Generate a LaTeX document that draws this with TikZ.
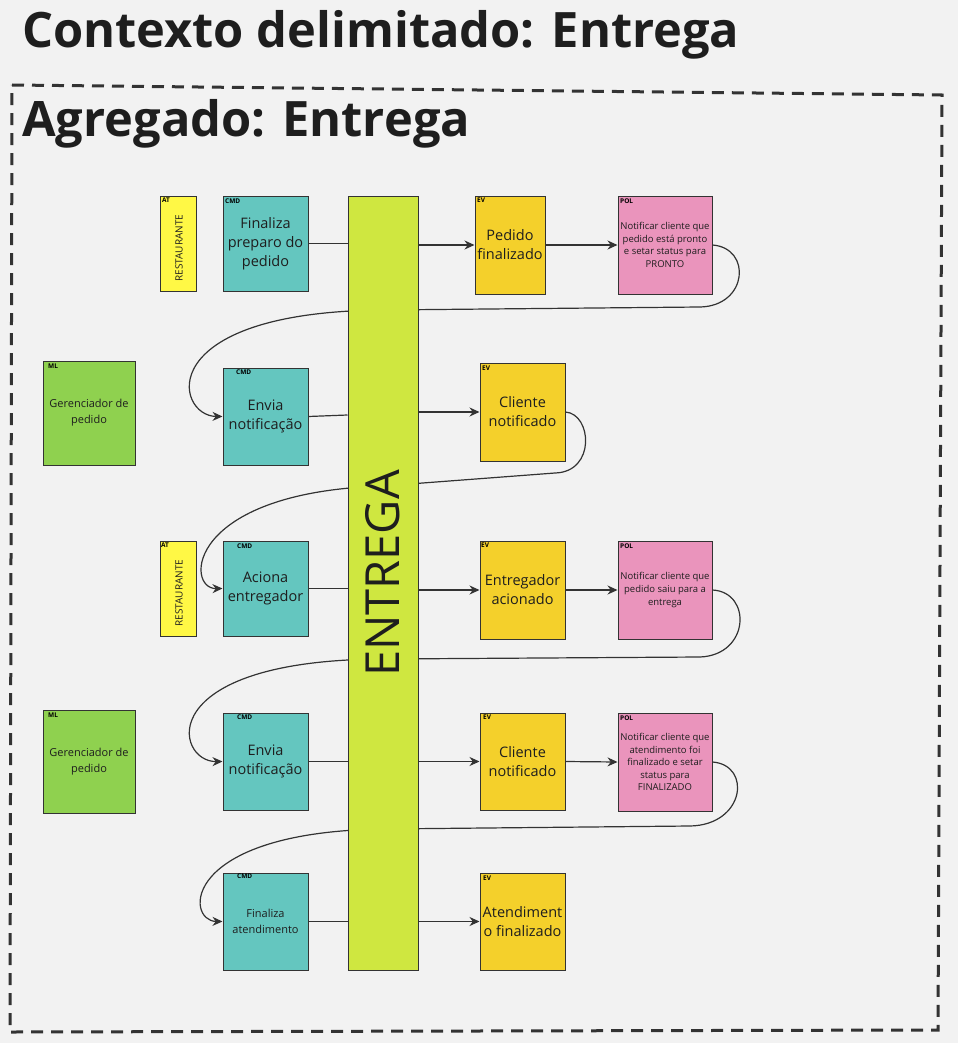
\documentclass[tikz,border=0pt]{standalone}
\usepackage{fontspec}
\setmainfont{Open Sans}
\usetikzlibrary{arrows.meta,backgrounds}
\definecolor{bgc}{HTML}{F2F2F2}
\definecolor{atc}{HTML}{FFF845}
\definecolor{cmdc}{HTML}{64C6BF}
\definecolor{aggc}{HTML}{CFE740}
\definecolor{evc}{HTML}{F4D02B}
\definecolor{polc}{HTML}{EA94BC}
\definecolor{mlc}{HTML}{8FD14F}
\definecolor{lnc}{HTML}{333333}
\definecolor{txc}{HTML}{1E1E1E}
\tikzset{
  card/.style={draw=lnc, line width=1pt, align=center, inner sep=0pt, text=txc},
  big/.style={font=\fontsize{14.5}{19}\selectfont},
  mid/.style={font=\fontsize{11}{16}\selectfont},
  tiny/.style={font=\fontsize{9.5}{12.5}\selectfont},
  tag/.style={font=\bfseries\fontsize{6.5}{7}\selectfont, inner sep=0pt, anchor=north west, text=black},
  conn/.style={draw=lnc, line width=1.2pt},
  arr/.style={conn, -{Stealth[length=10pt,width=9pt]}},
  ttl/.style={anchor=base west, inner sep=0pt, font=\bfseries\fontsize{48.8}{50}\selectfont, text=txc},
}
\begin{document}
\begin{tikzpicture}[x=1pt,y=-1pt]
\begin{pgfonlayer}{background}
\fill[bgc] (0,0) rectangle (958,1043);
\end{pgfonlayer}
\useasboundingbox (0,0) rectangle (958,1043);
% titles
\node[ttl] (t1) at (22,48) {Contexto delimitado: Entrega};
\node[ttl] (t2) at (22,137) {Agregado: Entrega};
% dashed aggregate border
\draw[lnc, line width=3pt, dash pattern=on 12pt off 8pt] (12,85) -- (942,95) -- (938,1030) -- (10,1032) -- cycle;

% aggregate
\node[card, fill=aggc, minimum width=70pt, minimum height=774pt] (agg) at (383,583) {};
\node[rotate=90, font=\fontsize{47}{47}\selectfont, text=txc] (aggtxt) at (383,573.5) {ENTREGA};

% row 1
\node[card, fill=atc, minimum width=36pt, minimum height=95pt] (at1) at (178,243.5) {};
\node[rotate=90, font=\fontsize{10}{10}\selectfont, text=txc] at (179,248) {RESTAURANTE};
\node[tag] at (162,198) {AT};
\node[card, fill=cmdc, minimum width=85pt, minimum height=95pt, big] (cmd1) at (265.5,243.5) {Finaliza\\preparo do\\pedido};
\node[tag] at (225,199) {CMD};
\node[card, fill=evc, minimum width=70pt, minimum height=98pt, big] (ev1) at (510,245) {Pedido\\finalizado};
\node[tag] at (477,198) {EV};
\node[card, fill=polc, minimum width=94pt, minimum height=98pt, tiny] (pol1) at (665,245) {Notificar cliente que\\pedido está pronto\\e setar status para\\PRONTO};
\node[tag] at (620,199) {POL};

% row 2
\node[card, fill=mlc, minimum width=92pt, minimum height=104pt, mid] (ml1) at (89,413) {Gerenciador de\\pedido};
\node[tag] at (48,364) {ML};
\node[card, fill=cmdc, minimum width=85pt, minimum height=97pt, big] (cmd2) at (265.5,416.5) {Envia\\notificação};
\node[tag] at (236,370) {CMD};
\node[card, fill=evc, minimum width=85pt, minimum height=98pt, big] (ev2) at (522.5,412) {Cliente\\notificado};
\node[tag] at (482,366) {EV};

% row 3
\node[card, fill=atc, minimum width=36pt, minimum height=95pt] (at2) at (178,588.5) {};
\node[rotate=90, font=\fontsize{10}{10}\selectfont, text=txc] at (179,593) {RESTAURANTE};
\node[tag] at (161,543) {AT};
\node[card, fill=cmdc, minimum width=85pt, minimum height=95pt, big] (cmd3) at (265.5,588.5) {Aciona\\entregador};
\node[tag] at (237,544) {CMD};
\node[card, fill=evc, minimum width=85pt, minimum height=98pt, big] (ev3) at (522.5,590) {Entregador\\acionado};
\node[tag] at (481,543) {EV};
\node[card, fill=polc, minimum width=94pt, minimum height=98pt, tiny] (pol2) at (665,590) {Notificar cliente que\\pedido saiu para a\\entrega};
\node[tag] at (620,544) {POL};

% row 4
\node[card, fill=mlc, minimum width=92pt, minimum height=103pt, mid] (ml2) at (89,761.5) {Gerenciador de\\pedido};
\node[tag] at (48,713) {ML};
\node[card, fill=cmdc, minimum width=85pt, minimum height=97pt, big] (cmd4) at (265.5,761.5) {Envia\\notificação};
\node[tag] at (237,715) {CMD};
\node[card, fill=evc, minimum width=85pt, minimum height=97pt, big] (ev4) at (522.5,761.5) {Cliente\\notificado};
\node[tag] at (483,715) {EV};
\node[card, fill=polc, minimum width=94pt, minimum height=98pt, tiny] (pol3) at (665,762) {Notificar cliente que\\atendimento foi\\finalizado e setar\\status para\\FINALIZADO};
\node[tag] at (620,716) {POL};

% row 5
\node[card, fill=cmdc, minimum width=85pt, minimum height=97pt, mid] (cmd5) at (265.5,921.5) {Finaliza\\atendimento};
\node[tag] at (237,874) {CMD};
\node[card, fill=evc, minimum width=85pt, minimum height=97pt, big] (ev5) at (522.5,921.5) {Atendiment\\o finalizado};
\node[tag] at (483,876) {EV};

% straight connectors
\draw[conn] (cmd1.east) -- (cmd1.east -| agg.west);
\draw[arr] (agg.east |- ev1.west) -- (ev1.west);
\draw[arr] (ev1.east) -- (pol1.west);
\draw[conn] (cmd2.east) -- (agg.west |- 0,415);
\draw[arr] (agg.east |- 0,412) -- (ev2.west);
\draw[conn] (cmd3.east) -- (cmd3.east -| agg.west);
\draw[arr] (agg.east |- ev3.west) -- (ev3.west);
\draw[arr] (ev3.east) -- (pol2.west);
\draw[conn] (cmd4.east) -- (cmd4.east -| agg.west);
\draw[arr] (agg.east |- ev4.west) -- (ev4.west);
\draw[arr] (ev4.east) -- (pol3.west);
\draw[conn] (cmd5.east) -- (cmd5.east -| agg.west);
\draw[arr] (agg.east |- ev5.west) -- (ev5.west);

% looping connectors (pass behind the aggregate)
\begin{pgfonlayer}{background}
\draw[arr] (pol1.east) .. controls (752,248) and (748,306) .. (700,307) -- (383,310)
  .. controls (150,312) and (175,416) .. (cmd2.west);
\draw[arr] (ev2.east) .. controls (592,414) and (596,472) .. (555,473) -- (383,486)
  .. controls (185,492) and (185,589) .. (cmd3.west);
\draw[arr] (pol2.east) .. controls (752,592) and (750,655) .. (700,657) -- (383,659)
  .. controls (150,660) and (175,762) .. (cmd4.west);
\draw[arr] (pol3.east) .. controls (752,765) and (745,825) .. (690,826) -- (383,829)
  .. controls (180,832) and (185,921) .. (cmd5.west);
\end{pgfonlayer}
\end{tikzpicture}
\end{document}
